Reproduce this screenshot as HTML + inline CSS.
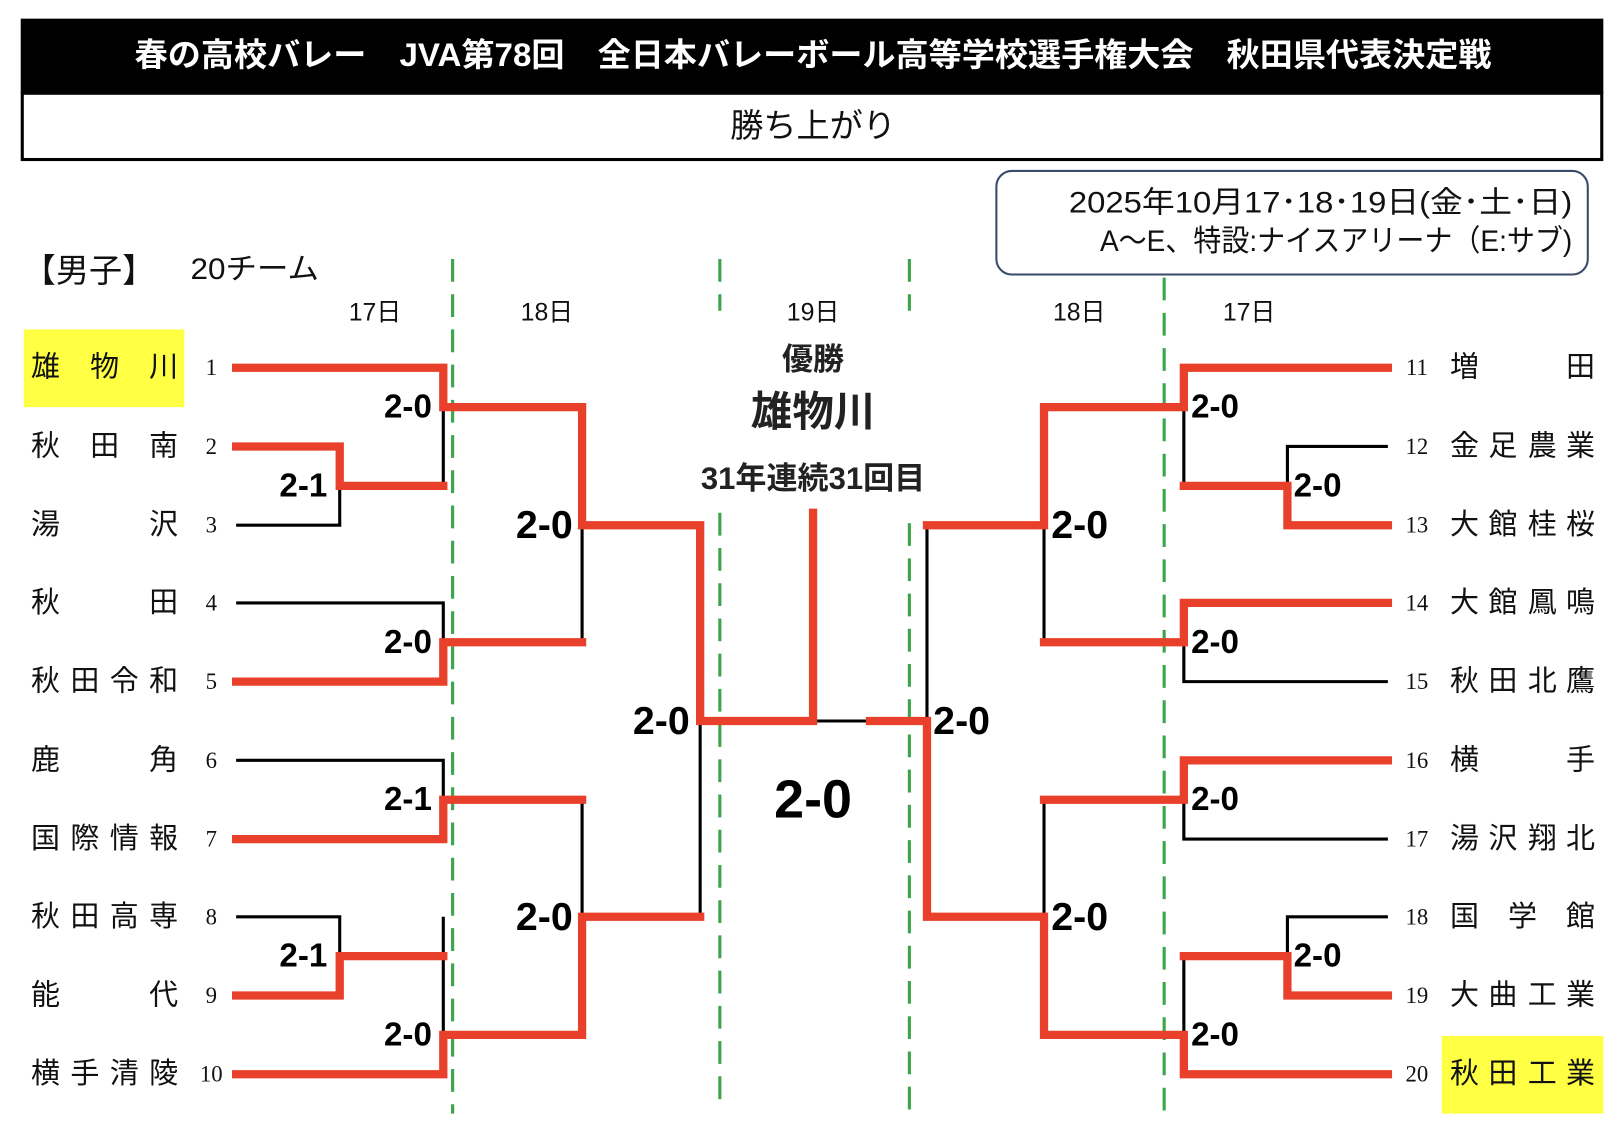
<!DOCTYPE html>
<html><head><meta charset="utf-8"><style>
html,body{margin:0;padding:0;background:#fff;}
svg{display:block;}
text{font-family:"Liberation Sans","Noto Sans CJK JP",sans-serif;dominant-baseline:central;}
.nm{font-size:28px;fill:#111;}
text.no{font-family:"Liberation Serif","Noto Serif CJK SC",serif;font-size:22px;fill:#111;}
.sc{font-size:32px;font-weight:bold;fill:#000;}
.sm{font-size:38px;font-weight:bold;fill:#000;}
.r{stroke:#e8402a;stroke-width:8;fill:none;stroke-linecap:square;}
.b{stroke:#000;stroke-width:3;fill:none;}
.g{stroke:#3aa54a;stroke-width:3;stroke-dasharray:22,12;fill:none;}
</style></head><body>
<svg width="1623" height="1125" viewBox="0 0 1567 1086" preserveAspectRatio="none" xmlns="http://www.w3.org/2000/svg">
<rect x="20" y="18" width="1528" height="72" fill="#000"/>
<text x="130" y="53" textLength="1310" lengthAdjust="spacingAndGlyphs" font-size="31" font-weight="bold" fill="#fff">春の高校バレー　JVA第78回　全日本バレーボール高等学校選手権大会　秋田県代表決定戦</text>
<rect x="21.5" y="90" width="1525" height="64" fill="#fff" stroke="#000" stroke-width="3"/>
<text x="785" y="122" text-anchor="middle" font-size="32" fill="#111">勝ち上がり</text>
<rect x="962" y="165" width="571" height="100" rx="15" fill="#fff" stroke="#3a4a6a" stroke-width="2"/>
<text x="1032" y="196" textLength="486" lengthAdjust="spacingAndGlyphs" font-size="29" fill="#111">2025年10月17･18･19日(金･土･日)</text>
<text x="1062" y="233" textLength="456" lengthAdjust="spacingAndGlyphs" font-size="29" fill="#111">A～E、特設:ナイスアリーナ（E:サブ)</text>
<text x="22" y="262" font-size="32" fill="#111">【男子】</text>
<text x="184" y="260" textLength="124" lengthAdjust="spacingAndGlyphs" font-size="29" fill="#111">20チーム</text>
<g font-size="24" fill="#111" text-anchor="middle">
<text x="362" y="302">17日</text><text x="528" y="302">18日</text><text x="785" y="302">19日</text><text x="1042" y="302">18日</text><text x="1206" y="302">17日</text>
</g>
<path class="g" d="M437 250V1075M695 250V300M695 495V1070M878 250V300M878 505V1075M1124 268V1075"/>
<rect x="23" y="318" width="155" height="75" fill="#ffff44"/>
<rect x="1392" y="1000" width="156" height="75" fill="#ffff44"/>
<g class="nm">
<text x="30" y="355">雄</text><text x="87" y="355">物</text><text x="144" y="355">川</text>
<text x="30" y="431">秋</text><text x="87" y="431">田</text><text x="144" y="431">南</text>
<text x="30" y="507">湯</text><text x="144" y="507">沢</text>
<text x="30" y="582">秋</text><text x="144" y="582">田</text>
<text x="30" y="658">秋</text><text x="68" y="658">田</text><text x="106" y="658">令</text><text x="144" y="658">和</text>
<text x="30" y="734">鹿</text><text x="144" y="734">角</text>
<text x="30" y="810">国</text><text x="68" y="810">際</text><text x="106" y="810">情</text><text x="144" y="810">報</text>
<text x="30" y="885">秋</text><text x="68" y="885">田</text><text x="106" y="885">高</text><text x="144" y="885">専</text>
<text x="30" y="961">能</text><text x="144" y="961">代</text>
<text x="30" y="1037">横</text><text x="68" y="1037">手</text><text x="106" y="1037">清</text><text x="144" y="1037">陵</text>
<text x="1400" y="355">増</text><text x="1512" y="355">田</text>
<text x="1400" y="431">金</text><text x="1437" y="431">足</text><text x="1475" y="431">農</text><text x="1512" y="431">業</text>
<text x="1400" y="507">大</text><text x="1437" y="507">館</text><text x="1475" y="507">桂</text><text x="1512" y="507">桜</text>
<text x="1400" y="582">大</text><text x="1437" y="582">館</text><text x="1475" y="582">鳳</text><text x="1512" y="582">鳴</text>
<text x="1400" y="658">秋</text><text x="1437" y="658">田</text><text x="1475" y="658">北</text><text x="1512" y="658">鷹</text>
<text x="1400" y="734">横</text><text x="1512" y="734">手</text>
<text x="1400" y="810">湯</text><text x="1437" y="810">沢</text><text x="1475" y="810">翔</text><text x="1512" y="810">北</text>
<text x="1400" y="885">国</text><text x="1456" y="885">学</text><text x="1512" y="885">館</text>
<text x="1400" y="961">大</text><text x="1437" y="961">曲</text><text x="1475" y="961">工</text><text x="1512" y="961">業</text>
<text x="1400" y="1037">秋</text><text x="1437" y="1037">田</text><text x="1475" y="1037">工</text><text x="1512" y="1037">業</text>
</g>
<g text-anchor="middle">
<text class="no" x="204" y="355">1</text><text class="no" x="204" y="431">2</text><text class="no" x="204" y="507">3</text><text class="no" x="204" y="582">4</text><text class="no" x="204" y="658">5</text><text class="no" x="204" y="734">6</text><text class="no" x="204" y="810">7</text><text class="no" x="204" y="885">8</text><text class="no" x="204" y="961">9</text><text class="no" x="204" y="1037">10</text>
<text class="no" x="1368" y="355">11</text><text class="no" x="1368" y="431">12</text><text class="no" x="1368" y="507">13</text><text class="no" x="1368" y="582">14</text><text class="no" x="1368" y="658">15</text><text class="no" x="1368" y="734">16</text><text class="no" x="1368" y="810">17</text><text class="no" x="1368" y="885">18</text><text class="no" x="1368" y="961">19</text><text class="no" x="1368" y="1037">20</text>
</g>
<path class="b" d="M228 507H328V469M428 393V469M228 582H428V620M228 734H428V772M428 885V999M228 885H328V923M562 507V620M562 772V885M676 696V885M785 696H840M895 507V696M1008 507V620M1008 772V885M1143 393V469M1340 431H1243V469M1143 620V658H1340M1143 772V810H1340M1340 885H1243V923M1143 923V999"/>
<path class="r" d="M228 431H328V469H428M228 355H428V393H562V507H676V696H785V495M228 658H428V620H562M228 810H428V772H562M228 961H328V923H428M228 1037H428V999H562V885H676M840 696H895V885H1008V999H1143V1037H1340M895 507H1008V393H1143V355H1340M1008 620H1143V582H1340M1143 469H1243V507H1340M1008 772H1143V734H1340M1143 923H1243V961H1340"/>
<g class="sc">
<text x="417" y="393" text-anchor="end">2-0</text>
<text x="316" y="469" text-anchor="end">2-1</text>
<text x="417" y="620" text-anchor="end">2-0</text>
<text x="417" y="772" text-anchor="end">2-1</text>
<text x="316" y="923" text-anchor="end">2-1</text>
<text x="417" y="999" text-anchor="end">2-0</text>
<text x="1150" y="393">2-0</text>
<text x="1249" y="469">2-0</text>
<text x="1150" y="620">2-0</text>
<text x="1150" y="772">2-0</text>
<text x="1249" y="923">2-0</text>
<text x="1150" y="999">2-0</text>
</g>
<g class="sm">
<text x="553" y="507" text-anchor="end">2-0</text>
<text x="553" y="885" text-anchor="end">2-0</text>
<text x="666" y="696" text-anchor="end">2-0</text>
<text x="1015" y="507">2-0</text>
<text x="1015" y="885">2-0</text>
<text x="901" y="696">2-0</text>
</g>
<text x="785" y="772" text-anchor="middle" font-size="52" font-weight="bold">2-0</text>
<text x="785" y="347" text-anchor="middle" font-size="30" font-weight="bold" fill="#222">優勝</text>
<text x="785" y="397" text-anchor="middle" font-size="40" font-weight="bold" fill="#222">雄物川</text>
<text x="785" y="462" text-anchor="middle" font-size="30" font-weight="bold" fill="#222">31年連続31回目</text>
</svg>
</body></html>
